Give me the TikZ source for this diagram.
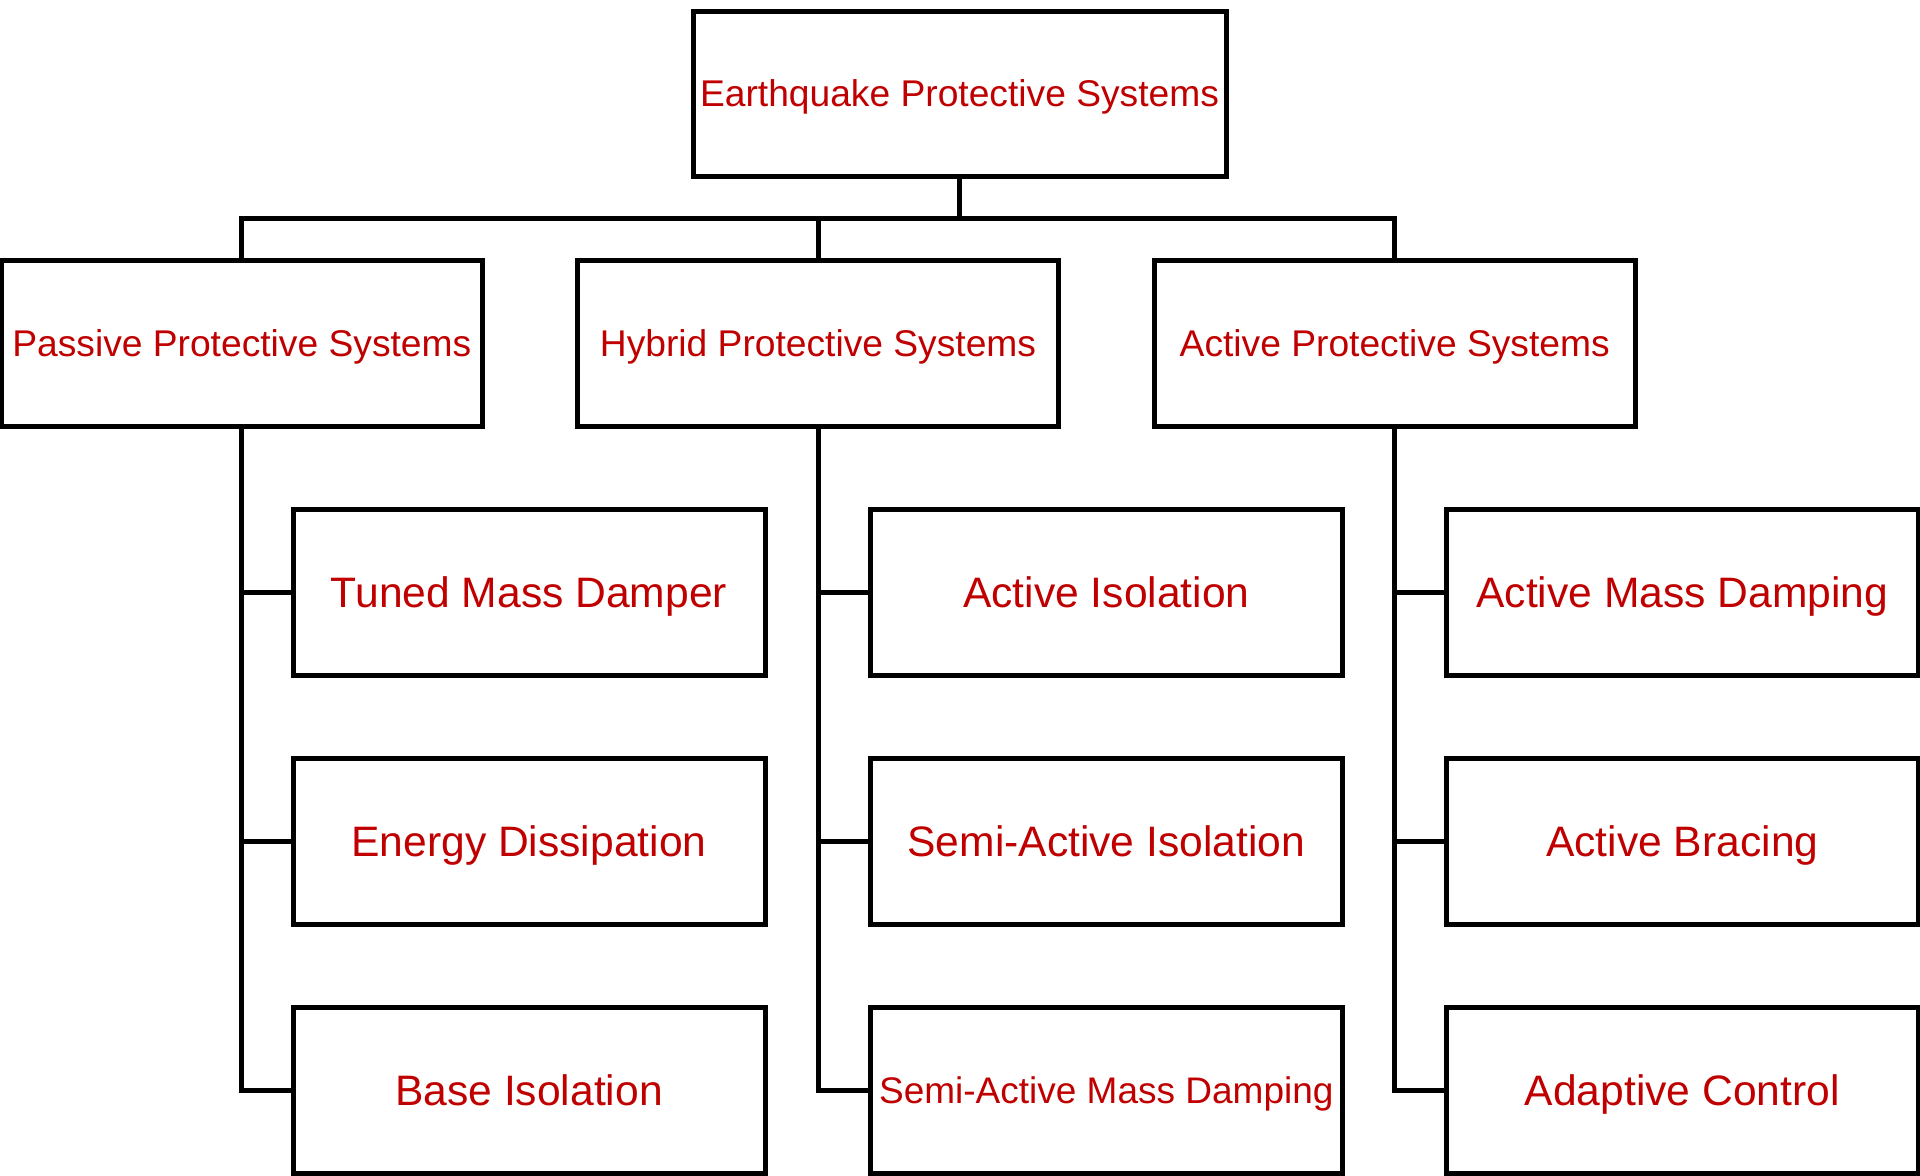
\documentclass[tikz,border=0pt]{standalone}
\usepackage{fontspec}
\setmainfont{Liberation Sans}
\definecolor{txtred}{RGB}{192,0,0}
\begin{document}
\begin{tikzpicture}[x=0.5pt,y=-0.5pt,
  box/.style={draw=black,line width=2.5pt,rectangle,inner sep=0pt,text=txtred,fill=white,text depth=0pt},
  topbox/.style={box,minimum width=266.5pt,minimum height=82.5pt,font=\fontsize{18.6}{22}\selectfont,text height=13.3pt},
  midbox/.style={box,minimum width=240.5pt,minimum height=83pt,font=\fontsize{18.6}{22}\selectfont,text height=13.3pt},
  leafbox/.style={box,minimum width=236pt,minimum height=83pt,font=\fontsize{21.3}{25}\selectfont,text height=15.25pt},
  smallleaf/.style={leafbox,font=\fontsize{18.5}{22}\selectfont,text height=13.25pt},
  conn/.style={draw=black,line width=2.5pt}]
\useasboundingbox[fill=white] (0,0) rectangle (1920,1175);
\node[topbox] (top) at (959.5,93.5) {Earthquake Protective Systems};
\node[midbox] (pas) at (241.8,343) {Passive Protective Systems};
\node[midbox] (hyb) at (818,343) {Hybrid Protective Systems};
\node[midbox] (act) at (1394.7,343) {Active Protective Systems};
\node[leafbox] (p1) at (529,592) {Tuned Mass Damper};
\node[leafbox] (p2) at (529,841) {Energy Dissipation};
\node[leafbox] (p3) at (529,1090) {Base Isolation};
\node[leafbox] (h1) at (1106.3,592) {Active Isolation};
\node[leafbox] (h2) at (1106.3,841) {Semi-Active Isolation};
\node[smallleaf] (h3) at (1106.3,1090) {Semi-Active Mass Damping};
\node[leafbox] (a1) at (1682.3,592) {Active Mass Damping};
\node[leafbox] (a2) at (1682.3,841) {Active Bracing};
\node[leafbox] (a3) at (1682.3,1090) {Adaptive Control};
\coordinate (bus) at (959.5,218);
\draw[conn] (top.south) -- (bus);
\draw[conn] (pas.north) |- (bus) -| (act.north);
\draw[conn] (hyb.north) -- (hyb.north |- bus);
\draw[conn] (pas.south) |- (p3.west);
\draw[conn] (pas.south |- p1.west) -- (p1.west);
\draw[conn] (pas.south |- p2.west) -- (p2.west);
\draw[conn] (hyb.south) |- (h3.west);
\draw[conn] (hyb.south |- h1.west) -- (h1.west);
\draw[conn] (hyb.south |- h2.west) -- (h2.west);
\draw[conn] (act.south) |- (a3.west);
\draw[conn] (act.south |- a1.west) -- (a1.west);
\draw[conn] (act.south |- a2.west) -- (a2.west);
\end{tikzpicture}
\end{document}
